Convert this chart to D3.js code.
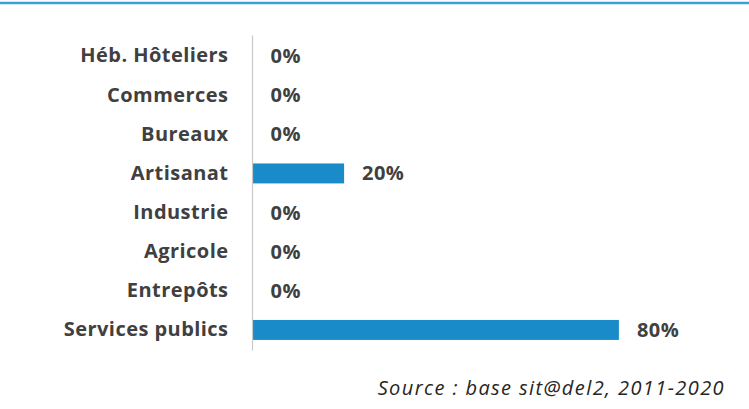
<!DOCTYPE html>
<html>
<head>
<meta charset="utf-8">
<script src="https://cdn.jsdelivr.net/npm/d3@7"></script>
<style>
  html, body { margin: 0; padding: 0; background: #fff; }
  svg { display: block; }
</style>
</head>
<body>
<div id="chart"></div>
<script>
// data
const categories = ["Héb. Hôteliers", "Commerces", "Bureaux", "Artisanat", "Industrie", "Agricole", "Entrepôts", "Services publics"];
const shares = [0, 0, 0, 0.2, 0, 0, 0, 0.8];
const sourceNote = "Source : base sit@del2, 2011-2020";

const width = 749, height = 409;
const textColor = "#404040";
const barColor = "#1a8bc9";
const font = "'Open Sans', Lato, sans-serif";

const svg = d3.select("#chart")
    .append("svg")
    .attr("width", width)
    .attr("height", height);

// blue rule on top
svg.append("line")
    .attr("x1", 0).attr("x2", width)
    .attr("y1", 3).attr("y2", 3)
    .attr("stroke", "#3d9fd6")
    .attr("stroke-width", 2.5);

const rows = categories.map((c, i) => ({cat: c, value: shares[i]}));

const y = d3.scaleBand()
    .domain(categories)
    .range([36.5, 349.5])
    .paddingInner(0.49)
    .paddingOuter(0.245);

const x = d3.scaleLinear()
    .domain([0, 1])
    .range([252.5, 252.5 + 458]);

// bars
svg.selectAll("rect.bar")
    .data(rows)
    .enter()
    .append("rect")
    .attr("class", "bar")
    .attr("x", x(0))
    .attr("y", d => y(d.cat))
    .attr("width", d => x(d.value) - x(0))
    .attr("height", y.bandwidth())
    .attr("fill", barColor);

// category axis
const axis = svg.append("g")
    .attr("transform", `translate(${x(0)},0)`)
    .call(d3.axisLeft(y).tickSize(0).tickPadding(24));

axis.select(".domain")
    .attr("stroke", "#c8c8c8")
    .attr("stroke-width", 1.2)
    .attr("d", `M0,${y.range()[0] - 1}V${y.range()[1] + 1}`);

axis.selectAll("text")
    .attr("fill", textColor)
    .style("font-family", font)
    .style("font-weight", "bold")
    .style("font-size", "20px")
    .style("letter-spacing", "0.45px");

// value labels
svg.selectAll("text.val")
    .data(rows)
    .enter()
    .append("text")
    .attr("class", "val")
    .attr("x", d => x(d.value) + 18)
    .attr("y", d => y(d.cat) + y.bandwidth() / 2)
    .attr("dy", "0.35em")
    .attr("fill", textColor)
    .style("font-family", font)
    .style("font-weight", "bold")
    .style("font-size", "20px")
    .style("letter-spacing", "0.45px")
    .text(d => d3.format(".0%")(d.value));

// source line
svg.append("text")
    .attr("x", 725)
    .attr("y", 395)
    .attr("text-anchor", "end")
    .attr("fill", "#262626")
    .style("font-family", font)
    .style("font-style", "italic")
    .style("font-size", "20px")
    .style("letter-spacing", "1.4px")
    .text(sourceNote);
</script>
</body>
</html>
